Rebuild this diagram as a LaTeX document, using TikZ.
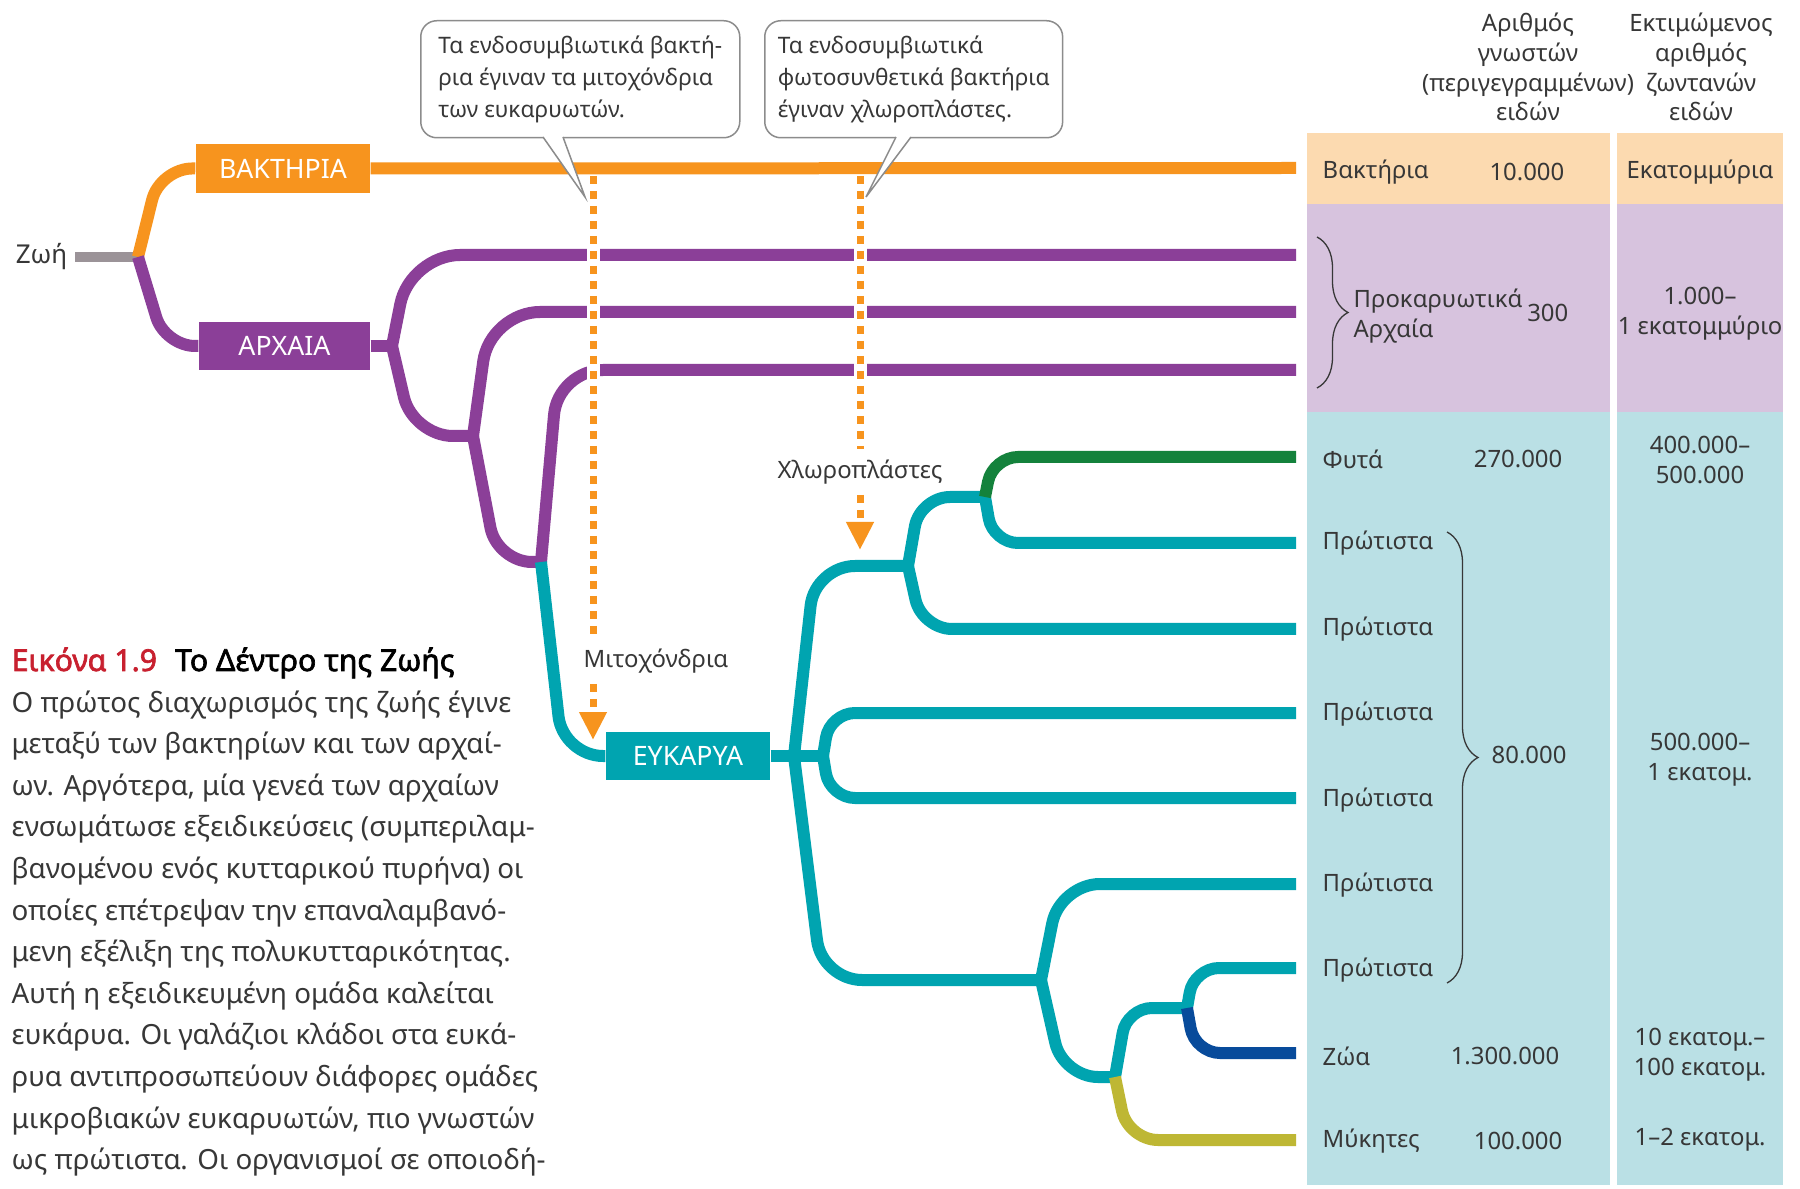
\documentclass[tikz,border=0pt]{standalone}
\usepackage{fontspec}
\setmainfont{Noto Sans}
\newfontfamily\headfont{Noto Sans}[FakeBold=2.2]
\usetikzlibrary{positioning,arrows.meta,decorations.pathreplacing}

\definecolor{bactorange}{RGB}{247,148,30}
\definecolor{archpurple}{RGB}{139,63,152}
\definecolor{eukteal}{RGB}{0,164,176}
\definecolor{plantgreen}{RGB}{20,130,60}
\definecolor{animalnavy}{RGB}{8,75,155}
\definecolor{fungiolive}{RGB}{190,183,52}
\definecolor{stemgray}{RGB}{155,147,152}
\definecolor{bactbg}{RGB}{252,218,176}
\definecolor{archbg}{RGB}{215,195,222}
\definecolor{eukbg}{RGB}{186,224,229}
\definecolor{figred}{RGB}{200,32,47}
\definecolor{inkgray}{RGB}{55,55,55}

\tikzset{
  branch/.style={line width=1.2mm},
  domainbox/.style={fill=#1, text=white, inner sep=0pt, font=\fontsize{7.6}{9}\selectfont},
  tabtext/.style={text=inkgray, inner sep=0pt, font=\fontsize{6.8}{8.5}\selectfont},
  numtext/.style={tabtext, anchor=east},
  esttext/.style={tabtext, align=center},
  captext/.style={text=inkgray, inner sep=0pt, font=\fontsize{7.9}{10}\selectfont},
  notebox/.style={draw=black!45, line width=0.15mm, rounded corners=1.6mm, fill=white,
    align=left, inner xsep=1.7mm, inner ysep=0pt, minimum height=11.7mm,
    text=inkgray, font=\fontsize{6.45}{9.1}\selectfont},
  endodash/.style={bactorange, line width=0.7mm, dash pattern=on 0.8mm off 0.7mm},
  gapline/.style={white, line width=1.3mm},
  groupbrace/.style={decorate, decoration={brace, amplitude=3.1mm}, inkgray, line width=0.13mm}
}

\begin{document}
\begin{tikzpicture}[x=0.1mm,y=-0.1mm]
  \useasboundingbox (0,0) rectangle (1800,1189);
  \fill[white] (0,0) rectangle (1800,1189);

  % table columns
  \foreach \xa/\xb in {1307/1610,1617/1783} {
    \fill[bactbg] (\xa,133) rectangle (\xb,204);
    \fill[archbg] (\xa,204) rectangle (\xb,412);
    \fill[eukbg] (\xa,412) rectangle (\xb,1185);
  }
  \node[esttext] (hknown) at (1528,67) {Αριθμός\\γνωστών\\(περιγεγραμμένων)\\ειδών};
  \node[esttext] (hest) at (1701,67) {Εκτιμώμενος\\αριθμός\\ζωντανών\\ειδών};

  % junctions and leaf ends
  \coordinate (stemstart) at (75,257);
  \coordinate (root) at (138,257);
  \coordinate (a1) at (392,346);
  \coordinate (a2) at (473,436);
  \coordinate (a3) at (541,562);
  \coordinate (e1) at (794,756);
  \coordinate (e2) at (908,566);
  \coordinate (e3) at (823,756);
  \coordinate (e4) at (1041,980);
  \coordinate (e5) at (1115,1077);
  \coordinate (e6) at (1187,1008);
  \coordinate (e7) at (985,497);
  \coordinate (lf-bact) at (1296,168);
  \coordinate (lf-arch1) at (1296,255);
  \coordinate (lf-arch2) at (1296,312);
  \coordinate (lf-arch3) at (1296,370);
  \coordinate (lf-plants) at (1296,457);
  \coordinate (lf-prot1) at (1296,543);
  \coordinate (lf-prot2) at (1296,629);
  \coordinate (lf-prot3) at (1296,713);
  \coordinate (lf-prot4) at (1296,798);
  \coordinate (lf-prot5) at (1296,884);
  \coordinate (lf-prot6) at (1296,968);
  \coordinate (lf-animals) at (1296,1053);
  \coordinate (lf-fungi) at (1296,1140);

  \node[tabtext, anchor=east, font=\fontsize{7.4}{9}\selectfont] (life) at (68,257) {Ζωή};
  \draw[stemgray, line width=1mm] (stemstart) -- (root);

  \node[domainbox=bactorange, minimum width=17.4mm, minimum height=4.9mm] (bact) at (283,168.5) {ΒΑΚΤΗΡΙΑ};
  \node[domainbox=archpurple, minimum width=17.1mm, minimum height=4.8mm] (arch) at (284.5,346) {ΑΡΧΑΙΑ};
  \node[domainbox=eukteal, minimum width=16.4mm, minimum height=4.8mm] (euk) at (688,756) {ΕΥΚΑΡΥΑ};

  % bacteria and archaea
  \draw[branch, bactorange, rounded corners=3.3mm] (root) -- (160,168) -- (bact.west);
  \draw[branch, bactorange] (bact.east) -- (lf-bact);
  \draw[branch, archpurple, rounded corners=3mm] (root) -- (165,346) -- (arch.west);
  \draw[branch, archpurple] (arch.east) -- (a1);
  \draw[branch, archpurple, rounded corners=5mm] (a1) -- (410,255) -- (lf-arch1);
  \draw[branch, archpurple, rounded corners=4mm] (a1) -- (413,436) -- (a2);
  \draw[branch, archpurple, rounded corners=5mm] (a2) -- (490,312) -- (lf-arch2);
  \draw[branch, archpurple, rounded corners=3.5mm] (a2) -- (497,562) -- (a3);
  \draw[branch, archpurple, rounded corners=4.5mm] (a3) -- (558,370) -- (lf-arch3);

  % eukarya
  \draw[branch, eukteal, rounded corners=4mm] (a3) -- (563,756) -- (euk.west);
  \draw[branch, eukteal] (euk.east) -- (e3);
  \draw[branch, eukteal, rounded corners=4mm] (e1) -- (815,566) -- (e2);
  \draw[branch, eukteal, rounded corners=4mm] (e1) -- (822,980) -- (e4);
  \draw[branch, eukteal, rounded corners=2.5mm] (e3) -- (830,713) -- (lf-prot3);
  \draw[branch, eukteal, rounded corners=2.5mm] (e3) -- (830,798) -- (lf-prot4);
  \draw[branch, eukteal, rounded corners=3mm] (e2) -- (920,497) -- (e7);
  \draw[branch, eukteal, rounded corners=3mm] (e2) -- (922,629) -- (lf-prot2);
  \draw[branch, eukteal, rounded corners=2.5mm] (e7) -- (993,543) -- (lf-prot1);
  \draw[branch, plantgreen, rounded corners=2.5mm] (e7) -- (993,457) -- (lf-plants);
  \draw[branch, eukteal, rounded corners=4mm] (e4) -- (1060,884) -- (lf-prot5);
  \draw[branch, eukteal, rounded corners=3.5mm] (e4) -- (1063,1077) -- (e5);
  \draw[branch, eukteal, rounded corners=2.5mm] (e5) -- (1127,1008) -- (e6);
  \draw[branch, fungiolive, rounded corners=3mm] (e5) -- (1128,1140) -- (lf-fungi);
  \draw[branch, eukteal, rounded corners=2.5mm] (e6) -- (1194,968) -- (lf-prot6);
  \draw[branch, animalnavy, rounded corners=2.5mm] (e6) -- (1195,1053) -- (lf-animals);

  % endosymbiosis arrows
  \coordinate (mitotop) at (593,176);
  \coordinate (mitotip) at (593,740);
  \node[tabtext, anchor=west, inner ysep=1mm] (mitolbl) at (583,661) {Μιτοχόνδρια};
  \draw[gapline] (mitotop) -- (mitotop |- mitolbl.north);
  \draw[endodash] (mitotop) -- (mitotop |- mitolbl.north);
  \draw[endodash, -{Triangle[width=2.6mm,length=2.8mm]}] (mitotop |- mitolbl.south) -- (mitotip);

  \coordinate (chlorotop) at (860,176);
  \coordinate (chlorotip) at (860,550);
  \node[tabtext, inner ysep=1mm] (chlorolbl) at (860,472) {Χλωροπλάστες};
  \draw[gapline] (chlorotop) -- (chlorolbl.north);
  \draw[endodash] (chlorotop) -- (chlorolbl.north);
  \draw[endodash, -{Triangle[width=2.6mm,length=2.8mm]}] (chlorolbl.south) -- (chlorotip);

  % notes
  \node[notebox, minimum width=31.9mm, anchor=north west] (mitonote) at (420,20)
    {Τα ενδοσυμβιωτικά βακτή-\\ρια έγιναν τα μιτοχόνδρια\\των ευκαρυωτών.};
  \coordinate (mitoptr) at (585,197);
  \fill[white] (543,136) -- (mitoptr) -- (563,136) -- cycle;
  \draw[black!45, line width=0.15mm] (543,137) -- (mitoptr) -- (563,137);

  \node[notebox, inner xsep=1.3mm, minimum width=29.7mm, anchor=north west] (chloronote) at (764,20)
    {Τα ενδοσυμβιωτικά\\φωτοσυνθετικά βακτήρια\\έγιναν χλωροπλάστες.};
  \coordinate (chloroptr) at (866,197);
  \fill[white] (896,136) -- (chloroptr) -- (911,136) -- cycle;
  \draw[black!45, line width=0.15mm] (896,137) -- (chloroptr) -- (911,137);

  % table entries
  \node[tabtext, anchor=west] (tbact) at (1322,172) {Βακτήρια};
  \node[numtext] (nbact) at (1565,172) {10.000};
  \node[esttext] (ebact) at (1700,172) {Εκατομμύρια};
  \node[tabtext, anchor=west, align=left] (tarch) at (1353,316) {Προκαρυωτικά\\Αρχαία};
  \node[numtext] (narch) at (1569,313) {300};
  \node[esttext] (earch) at (1700,314) {1.000–\\1 εκατομμύριο};
  \node[tabtext, anchor=west] (tplants) at (1322,459) {Φυτά};
  \node[numtext] (nplants) at (1563,459) {270.000};
  \node[esttext] (eplants) at (1700,460) {400.000–\\500.000};
  \foreach \y [count=\i] in {543,629,714,800,885,970}
    \node[tabtext, anchor=west] (tprot\i) at (1322,\y) {Πρώτιστα};
  \node[tabtext, anchor=west] (nprot) at (1491,755) {80.000};
  \node[esttext] (eprot) at (1700,760) {500.000–\\1 εκατομ.};
  \node[tabtext, anchor=west] (tanimals) at (1322,1056) {Ζώα};
  \node[numtext] (nanimals) at (1560,1056) {1.300.000};
  \node[esttext] (eanimals) at (1700,1055) {10 εκατομ.–\\100 εκατομ.};
  \node[tabtext, anchor=west] (tfungi) at (1322,1141) {Μύκητες};
  \node[numtext] (nfungi) at (1563,1141) {100.000};
  \node[esttext] (efungi) at (1700,1140) {1–2 εκατομ.};
  \draw[groupbrace] (1317,237) -- (1317,388);
  \draw[groupbrace] (1447,532) -- (1447,983);

  % caption
  \node[captext, anchor=base west, font=\fontsize{8.6}{10}\headfont, text=black] (figtitle) at (11,671)
    {\textcolor{figred}{Εικόνα 1.9}\hspace{0.6em}Το Δέντρο της Ζωής};
  \foreach \capline [count=\i] in {{Ο πρώτος διαχωρισμός της ζωής έγινε},
      {μεταξύ των βακτηρίων και των αρχαί-},
      {ων. Αργότερα, μία γενεά των αρχαίων},
      {ενσωμάτωσε εξειδικεύσεις (συμπεριλαμ-},
      {βανομένου ενός κυτταρικού πυρήνα) οι},
      {οποίες επέτρεψαν την επαναλαμβανό-},
      {μενη εξέλιξη της πολυκυτταρικότητας.},
      {Αυτή η εξειδικευμένη ομάδα καλείται},
      {ευκάρυα. Οι γαλάζιοι κλάδοι στα ευκά-},
      {ρυα αντιπροσωπεύουν διάφορες ομάδες},
      {μικροβιακών ευκαρυωτών, πιο γνωστών},
      {ως πρώτιστα. Οι οργανισμοί σε οποιοδή-}}
    \node[captext, anchor=base west] (cap\i) at (11,{712+(\i-1)*41.6}) {\capline};
\end{tikzpicture}
\end{document}
